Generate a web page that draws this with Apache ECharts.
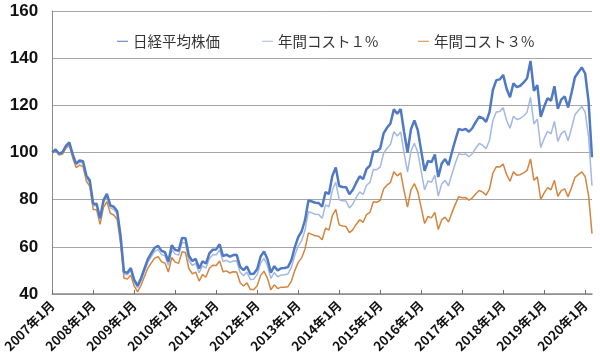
<!DOCTYPE html>
<html>
<head>
<meta charset="utf-8">
<script src="https://cdn.jsdelivr.net/npm/echarts@6/dist/echarts.min.js"></script>
<style>
html,body{margin:0;padding:0;background:#fff;}
#chart{width:600px;height:363px;}
</style>
</head>
<body>
<div id="chart"></div>
<script>
// Tick labels (one per year) and monthly categories
const years = [2007,2008,2009,2010,2011,2012,2013,2014,2015,2016,2017,2018,2019,2020];
const lastMonthOf2020 = 3;
const yTicks = [40,60,80,100,120,140,160];
const seriesNames = ['日経平均株価','年間コスト１%','年間コスト３%'];

// 日経平均株価 (2007年1月 = 100)
const nikkei = [
 100.0,101.3,99.5,100.1,102.8,104.3,99.2,95.3,96.6,96.3,90.2,88.1,
 78.2,78.3,72.1,79.7,82.5,77.6,77.0,75.2,64.8,49.3,49.0,51.0,
 46.0,43.5,46.7,50.8,54.8,57.3,59.6,60.4,58.3,57.7,53.8,60.7,
 58.7,58.3,63.8,63.6,56.2,54.0,54.9,50.8,53.9,52.9,57.2,58.8,
 58.9,61.1,56.1,56.7,55.8,56.5,56.6,51.5,50.1,51.7,48.5,48.6,
 50.6,55.9,58.0,54.8,49.1,51.8,50.0,50.9,51.0,51.4,54.3,59.8,
 64.1,66.5,71.3,79.7,79.2,78.7,78.6,77.0,83.2,82.4,90.1,93.7,
 85.8,85.4,85.3,82.3,84.2,87.2,89.9,88.7,93.0,94.4,100.4,100.4,
 101.7,108.1,110.5,112.3,118.3,116.4,118.4,108.7,100.0,109.8,113.6,109.5,
 100.8,92.2,96.4,95.9,99.2,89.6,95.3,97.2,94.6,100.2,105.3,110.0,
 109.5,110.0,108.8,110.4,113.0,115.2,114.6,113.0,117.1,126.6,130.7,131.0,
 132.9,127.0,123.4,129.3,127.7,128.3,129.7,131.5,138.8,126.1,128.6,115.1,
 119.5,123.0,122.0,128.1,118.5,122.4,123.8,119.1,125.2,131.9,134.0,136.1,
 133.5,121.6,98.0
];

// 年間コスト１%
const cost1 = [
 100.0,101.2,99.3,99.8,102.5,103.9,98.7,94.8,95.9,95.6,89.4,87.3,
 77.4,77.4,71.2,78.7,81.4,76.5,75.8,74.0,63.7,48.5,48.1,50.0,
 45.1,42.6,45.6,49.7,53.5,55.9,58.1,58.8,56.7,56.2,52.2,58.9,
 56.9,56.5,61.8,61.6,54.3,52.1,53.0,49.0,51.9,51.0,55.0,56.6,
 56.6,58.7,53.8,54.3,53.4,54.0,54.1,49.2,47.8,49.3,46.2,46.3,
 48.2,53.1,55.1,52.0,46.6,49.1,47.3,48.1,48.2,48.5,51.2,56.3,
 60.3,62.6,67.0,74.9,74.4,73.8,73.7,72.1,77.8,77.0,84.1,87.4,
 80.0,79.5,79.4,76.5,78.2,81.0,83.3,82.2,86.1,87.3,92.8,92.7,
 93.8,99.7,101.8,103.4,108.8,107.0,108.7,99.7,91.7,100.5,103.9,100.1,
 92.1,84.2,87.9,87.4,90.3,81.5,86.6,88.2,85.9,90.9,95.4,99.5,
 99.1,99.4,98.2,99.6,101.9,103.8,103.1,101.6,105.2,113.7,117.2,117.4,
 119.0,113.6,110.3,115.4,114.0,114.4,115.6,117.1,123.4,112.1,114.2,102.1,
 105.9,109.0,107.9,113.2,104.7,108.0,109.2,105.0,110.2,116.0,117.8,119.5,
 117.1,106.6,85.9
];

// 年間コスト３%
const cost3 = [
 100.0,101.0,98.9,99.3,101.8,103.0,97.7,93.6,94.6,94.1,87.9,85.6,
 75.8,75.7,69.5,76.7,79.2,74.3,73.5,71.7,61.6,46.8,46.3,48.1,
 43.3,40.9,43.7,47.4,51.0,53.2,55.2,55.8,53.7,53.1,49.3,55.5,
 53.5,53.0,57.9,57.6,50.8,48.6,49.3,45.5,48.2,47.2,50.9,52.2,
 52.1,54.0,49.4,49.8,48.9,49.4,49.3,44.8,43.4,44.7,41.9,41.9,
 43.5,47.9,49.6,46.7,41.8,43.9,42.3,42.9,42.9,43.1,45.5,49.9,
 53.4,55.3,59.1,65.9,65.3,64.7,64.5,63.0,67.9,67.1,73.2,75.9,
 69.3,68.8,68.6,66.0,67.3,69.6,71.5,70.4,73.7,74.6,79.1,78.9,
 79.7,84.5,86.2,87.3,91.8,90.1,91.4,83.7,76.8,84.1,86.8,83.4,
 76.6,69.9,72.9,72.3,74.6,67.3,71.4,72.6,70.5,74.5,78.1,81.3,
 80.8,80.9,79.8,80.8,82.5,83.9,83.2,81.9,84.6,91.3,94.0,93.9,
 95.1,90.6,87.8,91.8,90.4,90.6,91.4,92.4,97.3,88.2,89.7,80.1,
 82.9,85.1,84.2,88.2,81.4,83.8,84.6,81.2,85.1,89.4,90.6,91.8,
 89.8,81.7,65.6
];

const categories = [];
years.forEach(y => {
  const nm = (y === years[years.length - 1]) ? lastMonthOf2020 : 12;
  for (let m = 1; m <= nm; m++) categories.push(y + '年' + m + '月');
});

const colors = ['#5079C3', '#A3B8E2', '#D4853E'];
const cjk = '"Noto Sans CJK JP", "Noto Sans", sans-serif';

const chart = echarts.init(document.getElementById('chart'), null, {renderer: 'canvas'});
const legendLefts = [112, 257, 413];
chart.setOption({
  animation: false,
  backgroundColor: '#ffffff',
  color: colors,
  grid: {left: 49, right: 8, top: 11, bottom: 69, containLabel: false},
  legend: seriesNames.map((n, i) => ({
    data: [n],
    left: legendLefts[i],
    top: 29,
    itemWidth: 11,
    itemHeight: 10,
    itemGap: 4,
    icon: 'path://M0,4.5 L11,4.5 L11,5.5 L0,5.5 Z',
    textStyle: {fontFamily: cjk, fontSize: 14.5, color: '#333333'}
  })),
  xAxis: {
    type: 'category',
    data: categories,
    boundaryGap: false,
    axisLine: {lineStyle: {color: '#8c8c8c', width: 1.5}},
    axisTick: {
      inside: true, length: 4,
      interval: (idx) => idx % 12 === 0,
      lineStyle: {color: '#707070'}
    },
    axisLabel: {
      interval: (idx) => idx % 12 === 0,
      rotate: 45,
      margin: 9,
      fontFamily: cjk,
      fontSize: 13,
      fontWeight: 'bold',
      color: '#111111',
      formatter: (v) => v
    },
    splitLine: {show: false}
  },
  yAxis: {
    type: 'value',
    min: yTicks[0], max: yTicks[yTicks.length - 1], interval: 20,
    axisLine: {show: true, lineStyle: {color: '#8c8c8c', width: 1}},
    axisTick: {show: false},
    axisLabel: {
      margin: 14,
      fontFamily: '"Liberation Sans", Arial, sans-serif',
      fontSize: 17,
      fontWeight: 'bold',
      color: '#111111'
    },
    splitLine: {lineStyle: {color: '#a6a6a6', width: 1}}
  },
  series: [
    {name: seriesNames[0], type: 'line', data: nikkei, showSymbol: false, symbol: 'none', lineStyle: {width: 2.5, color: colors[0]}, z: 4},
    {name: seriesNames[1], type: 'line', data: cost1, showSymbol: false, symbol: 'none', lineStyle: {width: 1.5, color: colors[1]}, z: 3},
    {name: seriesNames[2], type: 'line', data: cost3, showSymbol: false, symbol: 'none', lineStyle: {width: 1.5, color: colors[2]}, z: 2}
  ]
});
</script>
</body>
</html>
